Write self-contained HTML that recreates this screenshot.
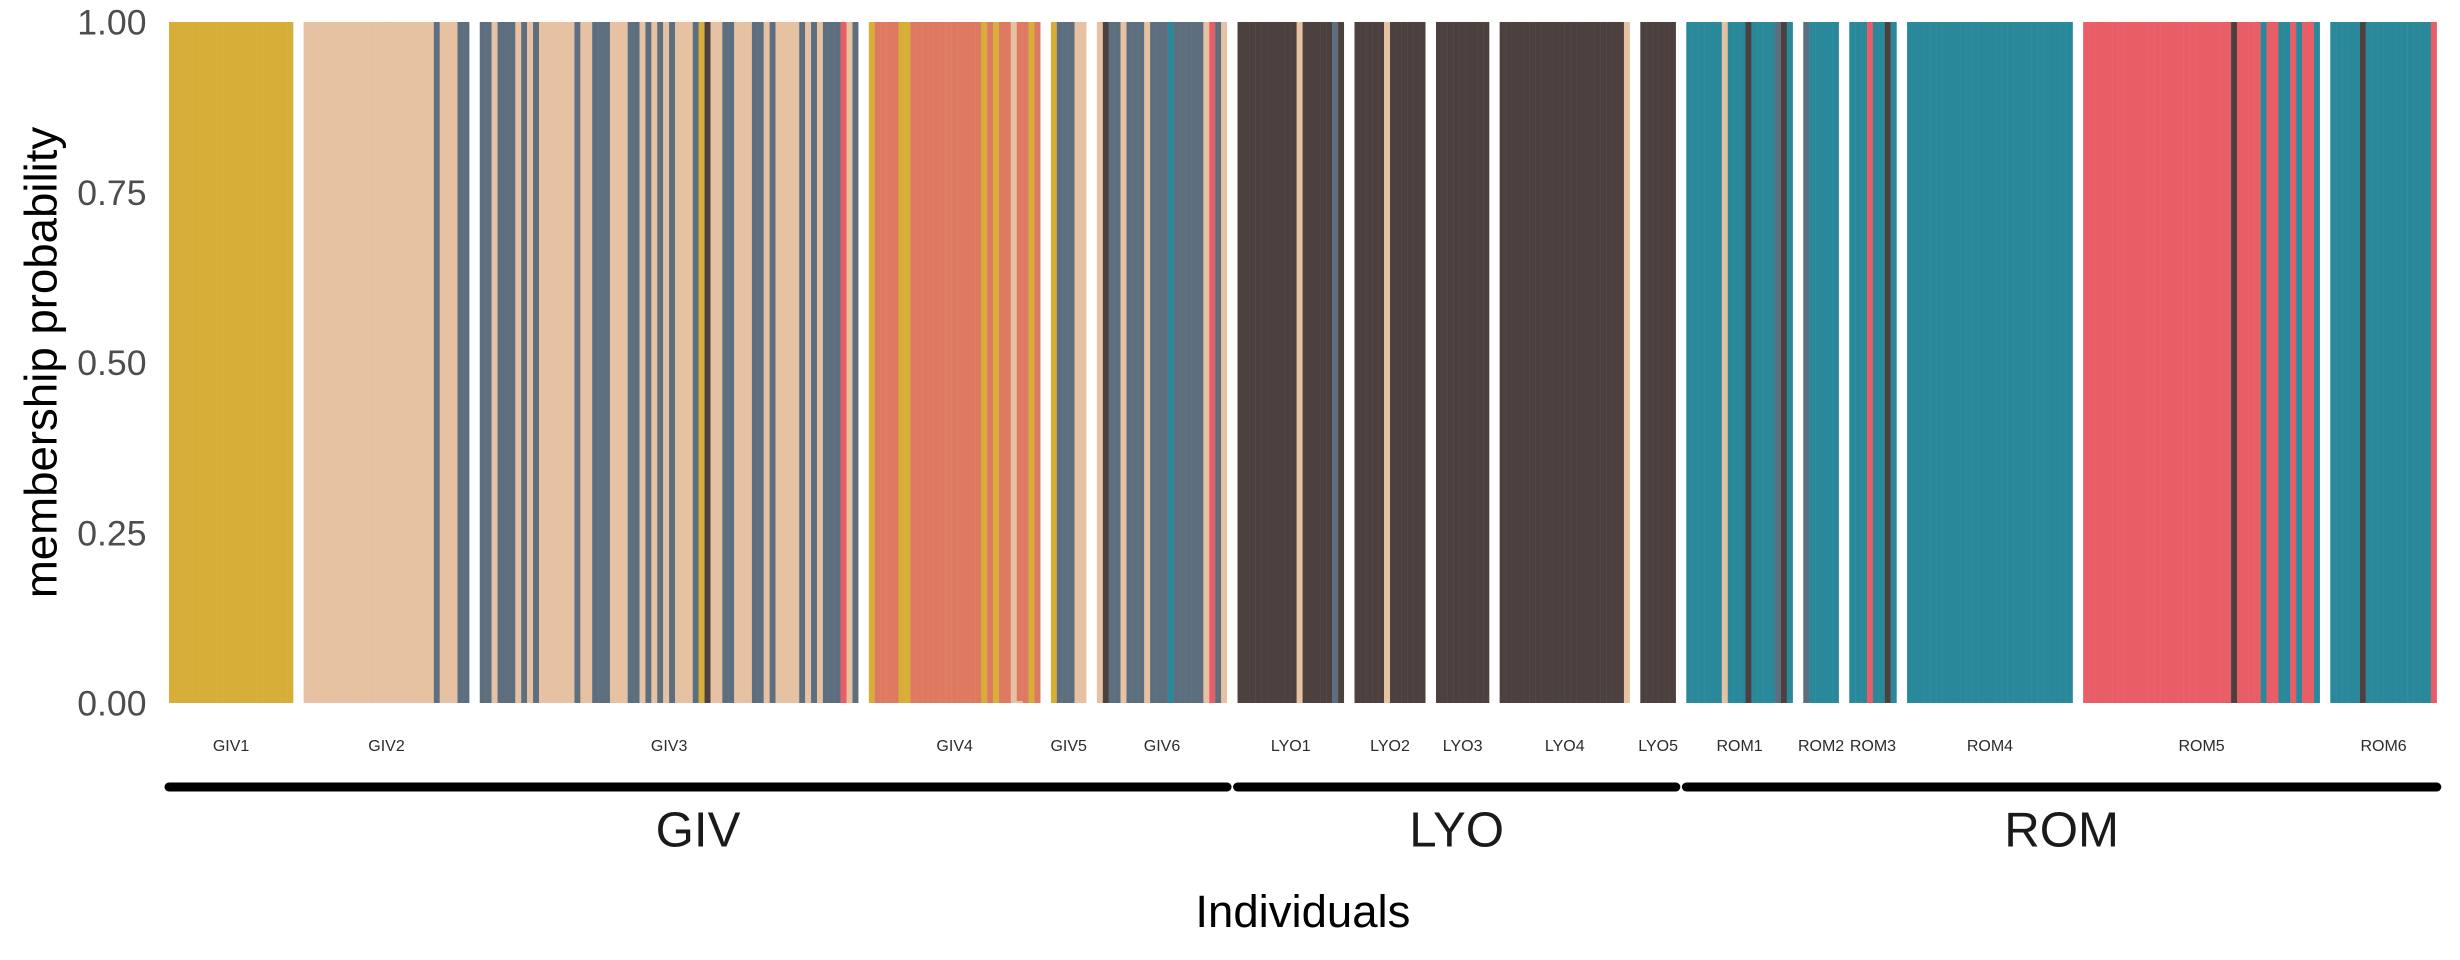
<!DOCTYPE html>
<html lang="en">
<head>
<meta charset="utf-8">
<title>Membership probability by individual</title>
<style>
  html, body { margin: 0; padding: 0; background: #ffffff; }
  body { width: 2460px; height: 960px; overflow: hidden; }
  svg { display: block; font-family: "Liberation Sans", Arial, sans-serif; }
</style>
</head>
<body>
<svg id="chart" xmlns="http://www.w3.org/2000/svg" width="2460" height="960" viewBox="0 0 2460 960"></svg>
<script>
// ---- data ----
const populations = ['GIV1','GIV2','GIV3','GIV4','GIV5','GIV6','LYO1','LYO2','LYO3','LYO4','LYO5','ROM1','ROM2','ROM3','ROM4','ROM5','ROM6'];
const populationGroups = ['GIV','GIV','GIV','GIV','GIV','GIV','LYO','LYO','LYO','LYO','LYO','ROM','ROM','ROM','ROM','ROM','ROM'];
const groupNames = ['GIV','LYO','ROM'];
// Dominant cluster per individual, one letter per bar
const individualClusters = [
  'YYYYYYYYYYYYYYYYYYYYY',
  'BBBBBBBBBBBBBBBBBBBBBBSBBBSS',
  'SSBSSSBSBSBBBBBBSBBSSSBBBSSBSBSBSBBBSYDBBSSBBBSSBSBBBBSBSBSSSRBS',
  'YOOOOYYOOOOOOOOOOOOYOYOOBOOYO',
  'YSSSBB',
  'BDSSBSSSBSSSTSSSSSBRSB',
  'DDDDDDDDDDBDDDDDSD',
  'DDDDDBDDDDDD',
  'DDDDDDDDD',
  'DDDDDDDDDDDDDDDDDDDDDB',
  'DDDDDD',
  'TTTTTTBTTTDTTTTSDT',
  'STTTTT',
  'TTTRTTDT',
  'TTTTTTTTTTTTTTTTTTTTTTTTTTTT',
  'RRRRRRRRRRRRRRRRRRRRRRRRRDRRRRTRRTTRTRRT',
  'TTTTTDTTTTTTTTTTTR'
];
// Membership probability of the top of each population's bars
const populationTotals = [1,1,1,1,1,1,1,1,1,1,1,1,1,1,1,1,1];
// Small secondary share, stacked at the bar base
const minorPopulation = ['GIV4'];
const minorIndividual = [25];
const minorCluster = ['B'];
const minorShare = [0.003];
const yTicks = [0, 0.25, 0.5, 0.75, 1];
const yTickLabels = ['0.00', '0.25', '0.50', '0.75', '1.00'];

// ---- palette ----
const palette = { Y:'#d6ae38', B:'#e6c2a2', S:'#5d6f7f', R:'#e95d66', O:'#df7a62', D:'#4d4140', T:'#29899a' };
// Seam tint shown through the anti-aliased joins between adjacent bars
const seamPalette = { Y:'#e2c673', B:'#eed5bf', S:'#8d9aa5', R:'#f08d94', O:'#e8a291', D:'#827a79', T:'#69adb9' };

// ---- layout ----
const plotLeft = 169, barUnit = 5.915, panelGap = 10.5, plotTop = 22, plotBottom = 703;
const NS = 'http://www.w3.org/2000/svg';
const svg = document.getElementById('chart');

function yScale(v) { return plotBottom - v * (plotBottom - plotTop); }
function panelStart(p) {
  let n = 0;
  for (let i = 0; i < p; i++) n += individualClusters[i].length;
  return plotLeft + n * barUnit + p * panelGap;
}
function panelEnd(p) { return panelStart(p) + individualClusters[p].length * barUnit; }
function xScale(p, i) { return panelStart(p) + i * barUnit; }

function make(tag, attrs, parent) {
  const el = document.createElementNS(NS, tag);
  for (const k in attrs) el.setAttribute(k, attrs[k]);
  parent.appendChild(el);
  return el;
}
function label(parent, str, x, y, size, fill, anchor) {
  const t = make('text', { x: x, y: y, 'font-size': size, fill: fill, 'text-anchor': anchor }, parent);
  t.textContent = str;
  return t;
}

// ---- bars ----
populations.forEach(function (pop, p) {
  const panel = make('g', {}, svg);
  
  
  const seq = individualClusters[p];
  const top = yScale(populationTotals[p]);

  // underlay: slightly overlapping tinted bars, visible only at the joins
  for (let i = 0; i < seq.length; i++) {
    const overlap = i < seq.length - 1 ? 0.4 : 0;
    const under = make('rect', {
      x: xScale(p, i).toFixed(2),
      y: top.toFixed(2),
      width: (barUnit + overlap).toFixed(2),
      height: (yScale(0) - top).toFixed(2),
      fill: seamPalette[seq[i]]
    }, panel);
    
    
  }

  for (let i = 0; i < seq.length; i++) {
    const mi = minorPopulation.findIndex(function (m, k) { return m === pop && minorIndividual[k] === i; });
    const low = mi >= 0 ? minorShare[mi] : 0;
    const x = xScale(p, i);
    const bar = make('rect', {
      x: x.toFixed(2),
      y: top.toFixed(2),
      width: barUnit.toFixed(3),
      height: (yScale(low) - top).toFixed(2),
      fill: palette[seq[i]]
    }, panel);
    
    
    if (mi >= 0) {
      const minor = make('rect', {
        x: x.toFixed(2),
        y: yScale(low).toFixed(2),
        width: barUnit.toFixed(3),
        height: (yScale(0) - yScale(low)).toFixed(2),
        fill: palette[minorCluster[mi]]
      }, panel);
      
      
    }
  }
  const lab = label(svg, pop, (panelStart(p) + panelEnd(p)) / 2, 751, 16, '#2b2b2b', 'middle');
  
  
});

// ---- y axis ----
yTicks.forEach(function (v, i) {
  const t = label(svg, yTickLabels[i], 146.5, yScale(v) + 12.6, 35.6, '#4d4d4d', 'end');
  
  
});

// ---- group brackets ----
groupNames.forEach(function (g) {
  const first = populationGroups.indexOf(g);
  const last = populationGroups.lastIndexOf(g);
  const x1 = panelStart(first), x2 = panelEnd(last);
  const line = make('line', {
    x1: x1.toFixed(2), x2: x2.toFixed(2), y1: 787, y2: 787,
    stroke: '#000000', 'stroke-width': 9, 'stroke-linecap': 'round'
  }, svg);
  
  
  const t = label(svg, g, (x1 + x2) / 2, 846.5, 49.2, '#1a1a1a', 'middle');
  
  
});

// ---- axis titles ----
const xTitle = label(svg, 'Individuals', (panelStart(0) + panelEnd(populations.length - 1)) / 2, 927, 45.5, '#000000', 'middle');



const yTitle = label(svg, 'membership probability', 0, 0, 45.6, '#000000', 'middle');
yTitle.setAttribute('transform', 'translate(56.5,' + ((plotTop + plotBottom) / 2) + ') rotate(-90)');


</script>
</body>
</html>
